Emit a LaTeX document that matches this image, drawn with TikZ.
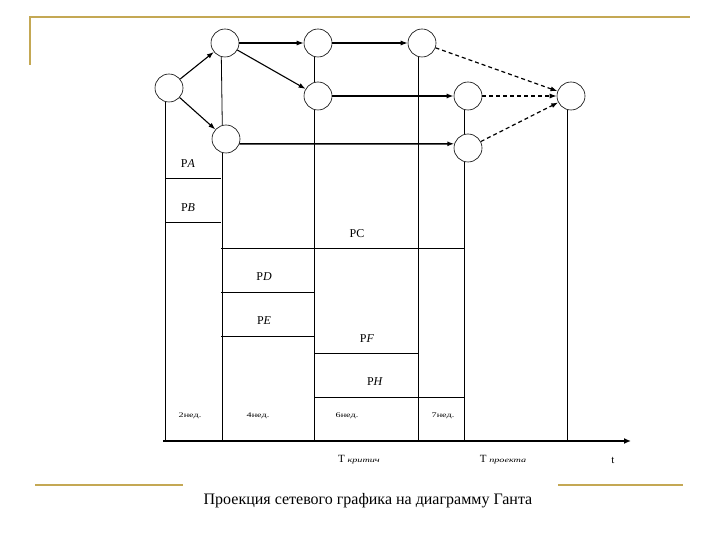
\documentclass[tikz,border=0pt]{standalone}
\usepackage{fontspec}
\setmainfont{Liberation Serif}
\usetikzlibrary{arrows.meta}
\definecolor{gold}{RGB}{196,168,84}
\newcommand{\widetxt}[2][7]{\scalebox{1.45}[1]{\fontsize{#1}{#1}\selectfont #2}}
\begin{document}
\begin{tikzpicture}[x=1pt,y=-1pt,
  ev/.style={circle,draw,line width=0.6pt,minimum size=28pt,inner sep=0pt},
  act/.style={line width=1.1pt,-{Latex[length=7pt,width=5pt]}},
  actthick/.style={line width=1.6pt,-{Latex[length=7pt,width=5pt]}},
  dum/.style={line width=1.2pt,dash pattern=on 4pt off 3pt,-{Latex[length=7pt,width=5pt]}},
  grid/.style={line width=0.8pt},
  lab/.style={font=\fontsize{12}{12}\selectfont,inner sep=1pt},
  wk/.style={inner sep=1pt},
  tl/.style={font=\fontsize{11}{11}\selectfont,inner sep=1pt},
  frame/.style={draw=gold,line width=2pt}]
\useasboundingbox (0,0) rectangle (720,540);
% frame
\draw[frame] (30,65) -- (30,17) -- (690,17);
\draw[frame] (35,485) -- (183,485);
\draw[frame] (558,485) -- (683,485);
% events
\node[ev] (n1) at (169,88) {};
\node[ev] (n2) at (225,43) {};
\node[ev] (n3) at (226,139) {};
\node[ev] (n4) at (318,43) {};
\node[ev] (n5) at (318,96) {};
\node[ev] (n6) at (422,43) {};
\node[ev] (n7) at (468,96) {};
\node[ev] (n8) at (468,148) {};
\node[ev] (n9) at (571,96) {};
% axis
\coordinate (a0) at (163,441);
\coordinate (a1) at (631,441);
\draw[line width=2pt,-{Latex[length=7pt,width=6pt]}] (a0) -- (a1);
% vertical lines
\draw[grid] (n1.-105) -- (n1.-105 |- a0);
\draw[grid] (n2.-105) -- (n3.105);
\draw[grid] (n3.-105) -- (n3.-105 |- a0);
\draw[grid] (n4.-105) -- (n5.105);
\draw[grid] (n5.-105) -- (n5.-105 |- a0);
\draw[grid] (n6.-105) -- (n6.-105 |- a0);
\draw[grid] (n7.-105) -- (n8.105);
\draw[grid] (n8.-105) -- (n8.-105 |- a0);
\draw[grid] (n9.-105) -- (n9.-105 |- a0);
% activities
\draw[act] (n1) -- (n2);
\draw[act] (n1) -- (n3);
\draw[act] (n2) -- (n4);
\draw[act] (n2) -- (n5);
\draw[act] (n4) -- (n6);
\draw[actthick] (n5) -- (n7);
\draw[actthick] (n3.-20) -- (n8.163);
\draw[dum] (n6) -- (n9);
\draw[dum] (n7) -- (n9);
\draw[dum] (n8) -- (n9);
% gantt bars
\draw[grid] (165,178) -- (221,178);
\draw[grid] (165,222) -- (221,222);
\draw[grid] (221,248) -- (464,248);
\draw[grid] (221,292) -- (314,292);
\draw[grid] (221,336) -- (314,336);
\draw[grid] (314,353) -- (418,353);
\draw[grid] (314,397) -- (464,397);
\node[lab] (pa) at (188,164) {P\textit{A}};
\node[lab] (pb) at (188,208) {P\textit{B}};
\node[lab] (pc) at (357,234) {PC};
\node[lab] (pd) at (264,277) {P\textit{D}};
\node[lab] (pe) at (264,321) {P\textit{E}};
\node[lab] (pf) at (367,339) {P\textit{F}};
\node[lab] (ph) at (375,382) {P\textit{H}};
\node[wk] (w2) at (190,416) {\widetxt{2нед.}};
\node[wk] (w4) at (258,416) {\widetxt{4нед.}};
\node[wk] (w6) at (347,416) {\widetxt{6нед.}};
\node[wk] (w7) at (443,416) {\widetxt{7нед.}};
\node[tl] (tk) at (359,460) {T \widetxt{\itshape критич}};
\node[tl] (tp) at (503,460) {T \widetxt{\itshape проекта}};
\node[tl] (tt) at (613,460) {t};
\node[font=\fontsize{16}{16}\selectfont] (title) at (368,501) {Проекция сетевого графика на диаграмму Ганта};
\end{tikzpicture}
\end{document}
